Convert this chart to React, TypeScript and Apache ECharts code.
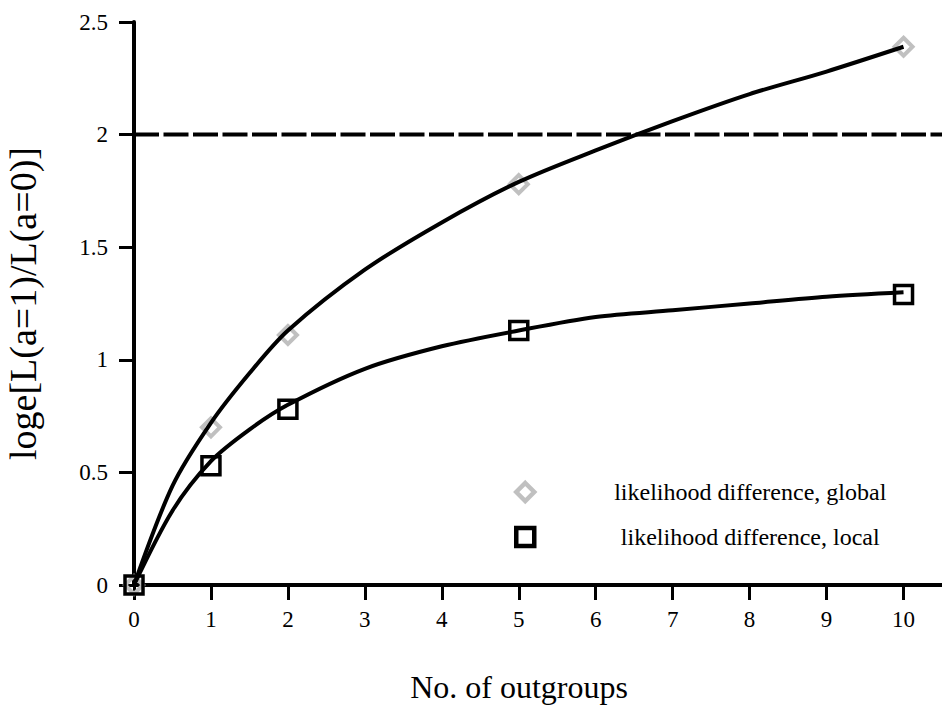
import React, { useEffect, useRef } from "react";
import * as echarts from "echarts";

// Observed points
const obsX = [0, 1, 2, 5, 10];
const globalObs = [0, 0.7, 1.11, 1.78, 2.39];
const localObs = [0, 0.53, 0.78, 1.13, 1.29];

// Fitted curves
const fitX = [0, 0.5, 1, 1.5, 2, 3, 4, 5, 6, 7, 8, 9, 10];
const globalFit = [0, 0.44, 0.72, 0.94, 1.13, 1.4, 1.61, 1.79, 1.93, 2.06, 2.18, 2.28, 2.39];
const localFit = [0, 0.33, 0.55, 0.69, 0.8, 0.96, 1.06, 1.13, 1.19, 1.22, 1.25, 1.28, 1.3];

const threshold = 2;
const xTicks = [0, 1, 2, 3, 4, 5, 6, 7, 8, 9, 10];
const xMax = 10.5;

const FONT = '"Liberation Serif", "Times New Roman", serif';
const GRAY = "#c0c0c0";

export default function App() {
  const ref = useRef<HTMLDivElement>(null);
  useEffect(() => {
    if (!ref.current) return;
    const chart = echarts.init(ref.current, null, { renderer: "svg" });
    const pair = (xs: number[], ys: number[]) => xs.map((x, i) => [x, ys[i]]);
    chart.setOption({
      animation: false,
      textStyle: { fontFamily: FONT, color: "#000" },
      grid: { left: 134, right: 0, top: 22, bottom: 122, containLabel: false, outerBoundsMode: "none" },
      legend: {
        data: [
          {
            name: "likelihood difference, global",
            icon: "diamond",
            itemStyle: { color: "#fff", borderColor: GRAY, borderWidth: 4.5, opacity: 1 },
          },
          {
            name: "likelihood difference, local",
            icon: "rect",
            itemStyle: { color: "#fff", borderColor: "#000", borderWidth: 4.5, opacity: 1 },
          },
        ],
        orient: "vertical",
        left: 509,
        top: 475,
        itemWidth: 18,
        itemHeight: 18,
        itemGap: 21,
        textStyle: {
          fontFamily: FONT,
          fontSize: 24,
          color: "#000",
          rich: {
            t: { fontFamily: FONT, fontSize: 24, color: "#000", width: 422, align: "center" },
          },
        },
        formatter: (n: string) => "{t|" + n + "}",
        selectedMode: false,
      },
      xAxis: {
        type: "value",
        min: 0,
        max: xMax,
        interval: 1,
        name: "No. of outgroups",
        nameLocation: "middle",
        nameGap: 86,
        nameTextStyle: { fontFamily: FONT, fontSize: 32, color: "#000", padding: [0, 38, 0, 0] },
        axisLine: { lineStyle: { color: "#000", width: 4 } },
        axisTick: { show: true, length: 15, lineStyle: { color: "#000", width: 3 }, customValues: xTicks },
        axisLabel: {
          fontFamily: FONT,
          fontSize: 23,
          color: "#000",
          margin: 23,
          customValues: xTicks,
        },
        splitLine: { show: false },
      },
      yAxis: {
        type: "value",
        min: 0,
        max: 2.5,
        interval: 0.5,
        name: "loge[L(a=1)/L(a=0)]",
        nameLocation: "middle",
        nameGap: 92,
        nameTextStyle: { fontFamily: FONT, fontSize: 38, color: "#000" },
        axisLine: { show: true, lineStyle: { color: "#000", width: 4 } },
        axisTick: { show: true, length: 15, lineStyle: { color: "#000", width: 3 } },
        axisLabel: {
          fontFamily: FONT,
          fontSize: 23,
          color: "#000",
          margin: 26,
          formatter: (v: number) => String(v),
        },
        splitLine: { show: false },
      },
      series: [
        {
          name: "threshold",
          type: "line",
          data: [[0, threshold], [xMax, threshold]],
          symbol: "none",
          lineStyle: { color: "#000", width: 4, type: [25, 4.5] },
          silent: true,
          z: 1,
        },
        {
          name: "likelihood difference, global",
          type: "scatter",
          data: pair(obsX, globalObs),
          symbol: "diamond",
          symbolSize: 18,
          itemStyle: { color: "rgba(255,255,255,0)", borderColor: GRAY, borderWidth: 4, opacity: 1 },
          z: 2,
        },
        {
          name: "globalFit",
          type: "line",
          data: pair(fitX, globalFit),
          smooth: 0.3,
          symbol: "none",
          lineStyle: { color: "#000", width: 4 },
          z: 3,
        },
        {
          name: "localFit",
          type: "line",
          data: pair(fitX, localFit),
          smooth: 0.3,
          symbol: "none",
          lineStyle: { color: "#000", width: 4 },
          z: 3,
        },
        {
          name: "likelihood difference, local",
          type: "scatter",
          data: pair(obsX, localObs),
          symbol: "rect",
          symbolSize: 18,
          itemStyle: { color: "rgba(255,255,255,0)", borderColor: "#000", borderWidth: 3.5, opacity: 1 },
          z: 4,
        },
      ],
    });
    return () => chart.dispose();
  }, []);
  return <div ref={ref} style={{ width: 942, height: 707, position: "absolute", left: 0, top: 0 }} />;
}
